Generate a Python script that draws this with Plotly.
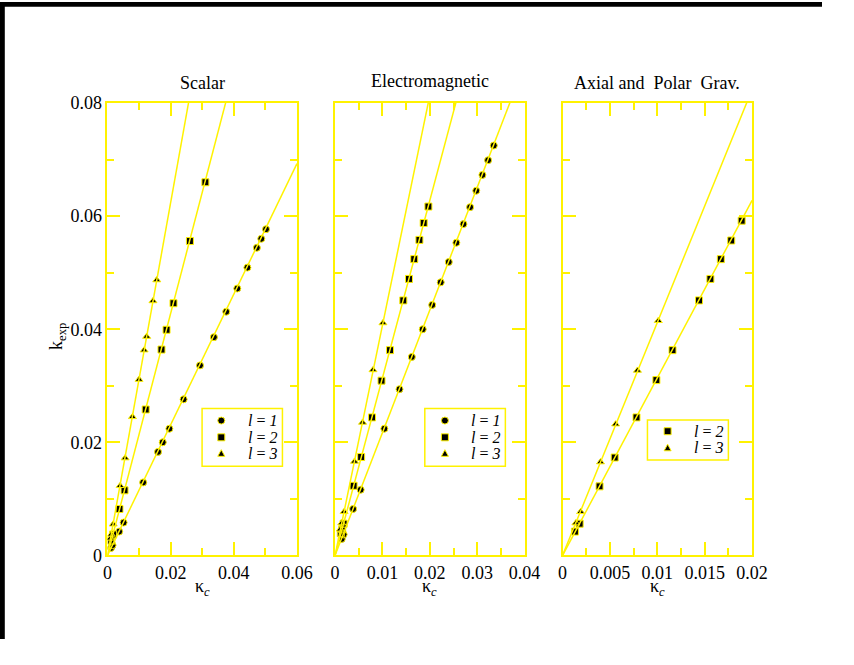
import plotly.graph_objects as go

# ---------------------------------------------------------------------------
# Data: k_exp versus kappa_c for the three perturbation types
# ---------------------------------------------------------------------------
scalar_l1_x = [0.0011, 0.0016, 0.0037, 0.0051, 0.0113, 0.0160, 0.0175, 0.0196, 0.0241,
               0.0293, 0.0337, 0.0376, 0.0411, 0.0443, 0.0473, 0.0487, 0.0502]
scalar_l1_y = [0.0013, 0.0018, 0.0042, 0.0058, 0.0129, 0.0183, 0.0200, 0.0224, 0.0276,
               0.0336, 0.0386, 0.0431, 0.0472, 0.0509, 0.0544, 0.0560, 0.0577]
scalar_l2_x = [0.0012, 0.0018, 0.0038, 0.0054, 0.0121, 0.0171, 0.0187, 0.0209, 0.0261, 0.0310]
scalar_l2_y = [0.0026, 0.0037, 0.0082, 0.0115, 0.0258, 0.0364, 0.0399, 0.0446, 0.0556, 0.0660]
scalar_l3_x = [0.0009, 0.0012, 0.0018, 0.0040, 0.0056, 0.0079, 0.0100, 0.0116, 0.0124, 0.0144, 0.0156]
scalar_l3_y = [0.0030, 0.0037, 0.0055, 0.0123, 0.0172, 0.0245, 0.0311, 0.0363, 0.0387, 0.0450, 0.0487]

em_l1_x = [0.0014, 0.0018, 0.0038, 0.0054, 0.0104, 0.0136, 0.0162, 0.0185, 0.0205,
           0.0223, 0.0240, 0.0256, 0.0271, 0.0285, 0.0298, 0.0311, 0.0323, 0.0335]
em_l1_y = [0.0029, 0.0037, 0.0082, 0.0116, 0.0224, 0.0294, 0.0351, 0.0400, 0.0443,
           0.0483, 0.0519, 0.0553, 0.0586, 0.0616, 0.0645, 0.0673, 0.0699, 0.0725]
em_l2_x = [0.0012, 0.0015, 0.0018, 0.0039, 0.0055, 0.0078, 0.0098, 0.0116, 0.0144,
           0.0156, 0.0167, 0.0178, 0.0187, 0.0197]
em_l2_y = [0.0039, 0.0046, 0.0056, 0.0123, 0.0174, 0.0244, 0.0309, 0.0363, 0.0451,
           0.0489, 0.0524, 0.0558, 0.0588, 0.0617]
em_l3_x = [0.0011, 0.0014, 0.0019, 0.0041, 0.0058, 0.0080, 0.0101]
em_l3_y = [0.0046, 0.0057, 0.0077, 0.0166, 0.0235, 0.0328, 0.0411]

grav_l2_x = [0.0013, 0.0018, 0.0039, 0.0055, 0.0078, 0.0099, 0.0116, 0.0144, 0.0156,
             0.0167, 0.0178, 0.0189]
grav_l2_y = [0.0042, 0.0056, 0.0122, 0.0173, 0.0244, 0.0310, 0.0363, 0.0451, 0.0489,
             0.0524, 0.0557, 0.0592]
grav_l3_x = [0.0014, 0.0019, 0.0040, 0.0056, 0.0079, 0.0101]
grav_l3_y = [0.0057, 0.0077, 0.0165, 0.0232, 0.0327, 0.0415]

# slopes of the linear fits k_exp = slope * kappa_c
scalar_slopes = [1.155, 2.14, 3.12]
em_slopes = [2.17, 3.14, 4.07]
grav_slopes = [3.14, 4.12]

panel_titles = ["Scalar", "Electromagnetic", "Axial and  Polar  Grav."]
x_max = [0.06, 0.04, 0.02]
x_dtick = [0.02, 0.01, 0.005]
y_ticks = [0, 0.02, 0.04, 0.06, 0.08]

# ---------------------------------------------------------------------------
# The graph div is pulled into the top-left corner of the window (over the
# default 8px body margin) and stays inside the page, so nothing scrolls.
# The figure autosizes to the div; positions are given in window pixels.
BODY_MARGIN = 8
W, H = 854 - BODY_MARGIN, 665 - BODY_MARGIN
YELLOW = "#fff200"
FONT = "Liberation Serif"
SYMBOLS = {1: "circle", 2: "square", 3: "triangle-up"}


def px(x):
    return x / W


def py(y):
    return 1 - y / H


# panel geometry in window pixels
panel_left = [113.3, 346.7, 580.0]
panel_width = 194.3
plot_top, plot_bottom = 104.3, 570.7

panels = [
    [(1, scalar_l1_x, scalar_l1_y, scalar_slopes[0]),
     (2, scalar_l2_x, scalar_l2_y, scalar_slopes[1]),
     (3, scalar_l3_x, scalar_l3_y, scalar_slopes[2])],
    [(1, em_l1_x, em_l1_y, em_slopes[0]),
     (2, em_l2_x, em_l2_y, em_slopes[1]),
     (3, em_l3_x, em_l3_y, em_slopes[2])],
    [(2, grav_l2_x, grav_l2_y, grav_slopes[0]),
     (3, grav_l3_x, grav_l3_y, grav_slopes[1])],
]

fig = go.Figure()
layout = dict(
    autosize=True,
    margin=dict(l=0, r=0, t=0, b=0),
    paper_bgcolor="white", plot_bgcolor="white",
    showlegend=False,
    font=dict(family=FONT, color="black", size=18),
)
shapes = []
annotations = []

for i, series in enumerate(panels):
    sfx = "" if i == 0 else str(i + 1)
    xa, ya = "x" + sfx, "y" + sfx
    # markers first, fitted lines drawn over them
    for l, xs, ys, slope in series:
        fig.add_trace(go.Scatter(
            x=xs, y=ys, mode="markers", xaxis=xa, yaxis=ya,
            name=f"l = {l}",
            marker=dict(symbol=SYMBOLS[l], size=7, color="black",
                        line=dict(color=YELLOW, width=1)),
        ))
    for l, xs, ys, slope in series:
        fig.add_trace(go.Scatter(
            x=[0, x_max[i]], y=[0, slope * x_max[i]], mode="lines",
            xaxis=xa, yaxis=ya, line=dict(color=YELLOW, width=1.5),
            hoverinfo="skip",
        ))

    left = panel_left[i]
    dom_x = [px(left), px(left + panel_width)]
    common = dict(
        showline=True, linecolor=YELLOW, linewidth=2, mirror="allticks",
        ticks="inside", ticklen=13, tickwidth=1.5, tickcolor=YELLOW,
        showgrid=False, zeroline=False,
        tickfont=dict(family=FONT, size=18, color="black"),
    )
    layout["xaxis" + sfx] = dict(
        common, domain=dom_x, range=[0, x_max[i]], dtick=x_dtick[i], tick0=0,
        anchor=ya,
        minor=dict(ticks="inside", ticklen=7, tickwidth=1.5, tickcolor=YELLOW,
                   dtick=x_dtick[i] / 2, showgrid=False),
    )
    layout["yaxis" + sfx] = dict(
        common, domain=[py(plot_bottom), py(plot_top)], range=[0, 0.08],
        tickvals=y_ticks, anchor=xa, showticklabels=(i == 0),
        minor=dict(ticks="inside", ticklen=7, tickwidth=1.5, tickcolor=YELLOW,
                   dtick=0.01, showgrid=False),
    )

    # panel title and x-axis title
    cx = left + panel_width / 2
    annotations.append(dict(
        text=panel_titles[i], x=px(cx), y=py(84 if i != 1 else 81),
        xref="paper", yref="paper", showarrow=False,
        xanchor="center", yanchor="middle", font=dict(size=18),
    ))
    annotations.append(dict(
        text="κ<sub><i>c</i></sub>", x=px(cx), y=py(604),
        xref="paper", yref="paper", showarrow=False,
        xanchor="center", yanchor="middle", font=dict(size=18),
    ))

# y-axis title
annotations.append(dict(
    text="k<sub>exp</sub>", x=px(62), y=py(345), textangle=-90,
    xref="paper", yref="paper", showarrow=False,
    xanchor="center", yanchor="middle", font=dict(size=18),
))

# legend boxes (one per panel), keys drawn as small shapes
legend_boxes = [
    dict(box=(210.3, 419.3, 292.7, 478.7), key_x=230.0, text_x=255.0,
         rows=[(1, 431.7), (2, 449.0), (3, 465.7)]),
    dict(box=(438.7, 419.3, 521.3, 478.7), key_x=459.3, text_x=484.0,
         rows=[(1, 431.7), (2, 449.0), (3, 465.7)]),
    dict(box=(667.0, 431.0, 750.0, 472.3), key_x=687.7, text_x=713.0,
         rows=[(2, 442.7), (3, 460.0)]),
]
for lg in legend_boxes:
    x0, y0, x1, y1 = lg["box"]
    shapes.append(dict(type="rect", xref="paper", yref="paper",
                       x0=px(x0), x1=px(x1), y0=py(y1), y1=py(y0),
                       line=dict(color=YELLOW, width=1.5), fillcolor="white",
                       layer="above"))
    kx = lg["key_x"]
    for l, ry in lg["rows"]:
        r = 3.6
        key_style = dict(xref="paper", yref="paper", fillcolor="black",
                         line=dict(color=YELLOW, width=1), layer="above")
        if l == 1:
            shapes.append(dict(type="circle", x0=px(kx - r), x1=px(kx + r),
                               y0=py(ry + r), y1=py(ry - r), **key_style))
        elif l == 2:
            shapes.append(dict(type="rect", x0=px(kx - r), x1=px(kx + r),
                               y0=py(ry + r), y1=py(ry - r), **key_style))
        else:
            path = (f"M {px(kx - r)},{py(ry + r * 0.8)} L {px(kx + r)},{py(ry + r * 0.8)} "
                    f"L {px(kx)},{py(ry - r * 1.1)} Z")
            shapes.append(dict(type="path", path=path, **key_style))
        annotations.append(dict(
            text=f"<i>l</i> = <i>{l}</i>", x=px(lg["text_x"]), y=py(ry),
            xref="paper", yref="paper", showarrow=False,
            xanchor="left", yanchor="middle",
            font=dict(family=FONT, size=16),
        ))

# dark frame strips along the top and left edges
shapes.append(dict(type="rect", xref="paper", yref="paper", x0=0, x1=px(8),
                   y0=0, y1=1, fillcolor="black", line=dict(width=0), layer="above"))
shapes.append(dict(type="rect", xref="paper", yref="paper", x0=0, x1=1,
                   y0=py(5), y1=1, fillcolor="black", line=dict(width=0), layer="above"))

layout["shapes"] = shapes
layout["annotations"] = annotations
fig.update_layout(**layout)
fig.write_html(
    "out.html",
    default_width=f"{W}px; margin:-{BODY_MARGIN}px 0 0 -{BODY_MARGIN}px",
    default_height=f"{H}px",
)
